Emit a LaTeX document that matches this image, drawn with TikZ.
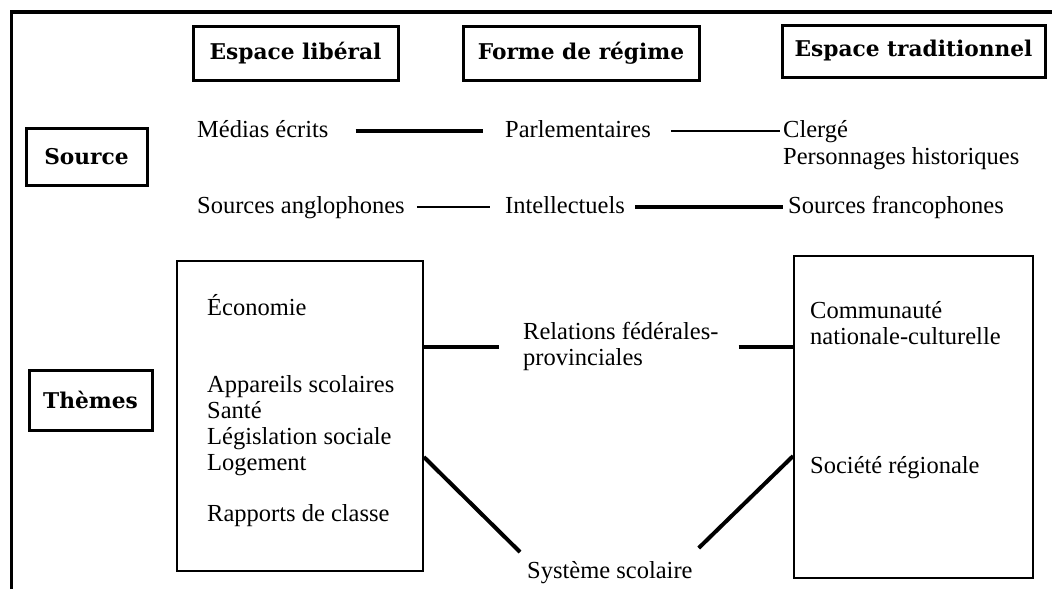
\documentclass[tikz,border=0pt]{standalone}
\usepackage{fontspec}
\setmainfont{Liberation Serif}
\newfontfamily\headfont{DejaVu Serif}
\begin{document}
\begin{tikzpicture}[x=1pt,y=-1pt,
  lbl/.style={inner sep=0pt, anchor=base west, align=left,
    font=\fontsize{24.5}{26}\selectfont},
  hdr/.style={draw, line width=3pt, inner sep=0pt,
    font=\headfont\bfseries\fontsize{21.7}{25}\selectfont},
  panel/.style={draw, line width=1.8pt, inner sep=0pt},
  heavy/.style={line width=3.5pt},
  light/.style={line width=1.4pt},
  diag/.style={line width=4pt}]
\useasboundingbox (0,0) rectangle (1052,589);

% page frame (top and left rules)
\draw[line width=3.5pt] (11.5,589) -- (11.5,12) -- (1052,12);

% column and row headers
\node[hdr, minimum width=205pt, minimum height=54pt] (lib)  at (295.5,53)  {Espace libéral};
\node[hdr, minimum width=236pt, minimum height=54pt] (reg)  at (581,53)    {Forme de régime};
\node[hdr, minimum width=263pt, minimum height=52pt] (trad) at (913.5,51)  {Espace traditionnel};
\node[hdr, minimum width=121pt, minimum height=57pt] (src)  at (86.5,156.5){Source};
\node[hdr, minimum width=123pt, minimum height=60pt] (thm)  at (90.5,400)  {Thèmes};

% sources (multi-line labels are placed by their last baseline)
\node[lbl] (med) at (197,137) {Médias écrits};
\node[lbl] (par) at (505,137) {Parlementaires};
\node[lbl] (cle) at (783,164) {Clergé\\[1pt]Personnages historiques};
\node[lbl] (ang) at (197,213) {Sources anglophones};
\node[lbl] (int) at (505,213) {Intellectuels};
\node[lbl] (fra) at (788,213) {Sources francophones};

\draw[heavy] ([xshift=27pt,yshift=6pt]med.base east) -- ([xshift=-22pt,yshift=6pt]par.base west);
\draw[light] ([xshift=20pt,yshift=6pt]par.base east) -- ([xshift=-3pt,yshift=33pt]cle.base west);
\draw[light] ([xshift=12pt,yshift=6pt]ang.base east) -- ([xshift=-15pt,yshift=6pt]int.base west);
\draw[heavy] ([xshift=10pt,yshift=6pt]int.base east) -- ([xshift=-5pt,yshift=6pt]fra.base west);

% theme panels
\node[panel, minimum width=246pt, minimum height=310pt] (lbox) at (300,416) {};
\node[panel, minimum width=239pt, minimum height=322pt] (rbox) at (913.5,417) {};

\node[lbl] (eco) at (207,315) {Économie};
\node[lbl] (app) at (207,470) {Appareils scolaires\\Santé\\Législation sociale\\Logement};
\node[lbl] (rap) at (207,521) {Rapports de classe};

\node[lbl] (com) at (810,344) {Communauté\\nationale-culturelle};
\node[lbl] (soc) at (810,473) {Société régionale};

\node[lbl] (rel) at (523,365) {Relations fédérales-\\provinciales};
\node[lbl] (sys) at (527,578) {Système scolaire};

% links between the panels and the shared themes
\coordinate (rl) at ([xshift=-24pt,yshift=18pt]rel.base west);
\coordinate (rr) at ([xshift=20pt,yshift=18pt]rel.base east);
\draw[heavy] (lbox.east |- rl) -- (rl);
\draw[heavy] (rr) -- (rr -| rbox.west);
\draw[diag] ([yshift=-41pt]lbox.east) -- ([xshift=-7pt,yshift=26pt]sys.base west);
\draw[diag] ([xshift=6pt,yshift=30pt]sys.base east) -- ([yshift=-39pt]rbox.west);
\end{tikzpicture}
\end{document}
